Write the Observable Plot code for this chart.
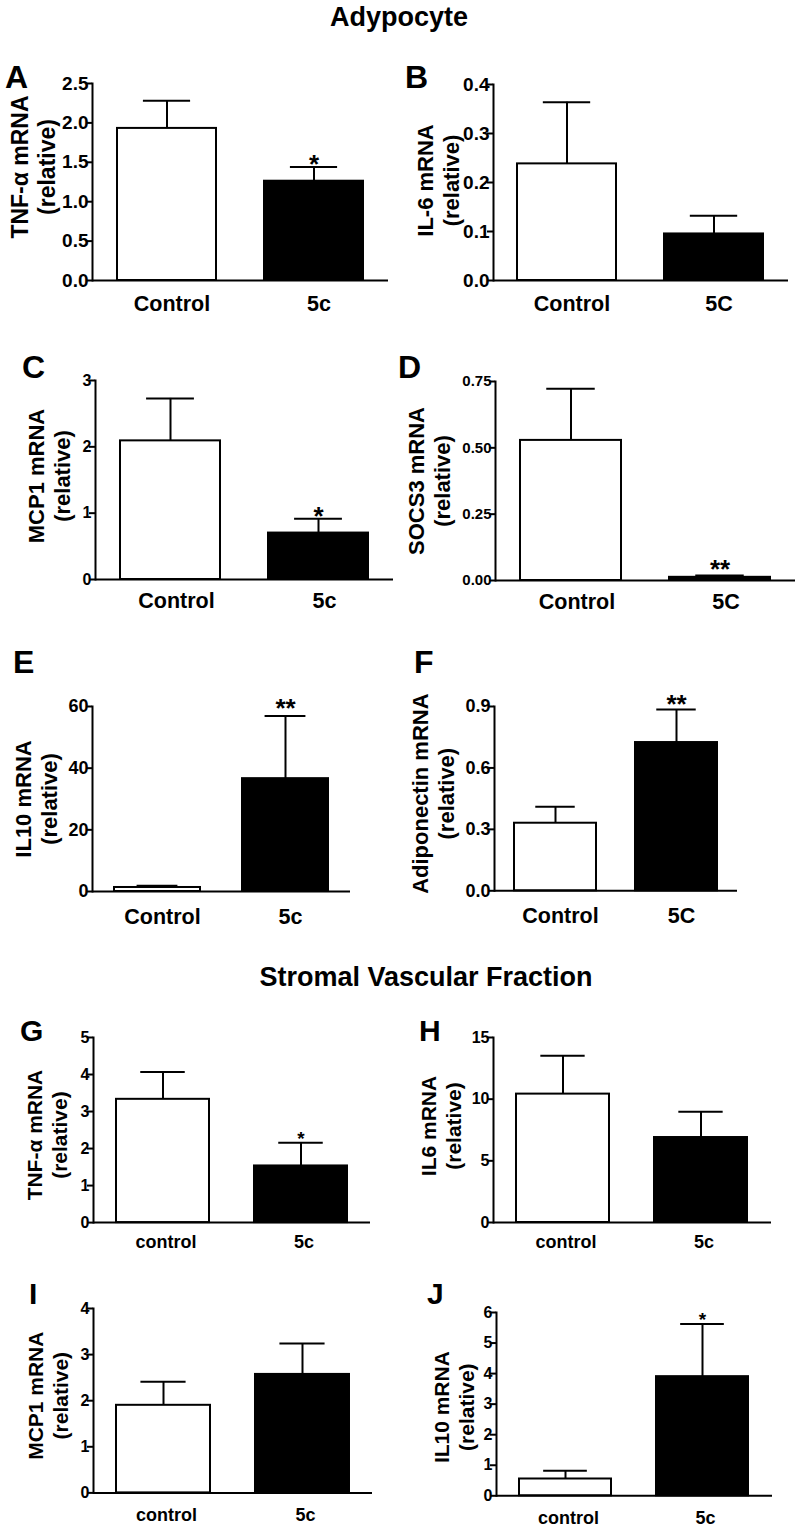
<!DOCTYPE html>
<html><head><meta charset="utf-8">
<script src="https://cdn.jsdelivr.net/npm/d3@7"></script>
<script src="https://cdn.jsdelivr.net/npm/@observablehq/plot@0.6"></script>
<style>
html,body{margin:0;padding:0;background:#fff;overflow:hidden}
#fig{position:relative;width:796px;height:1527px;background:#fff;font-family:"Liberation Sans",Arial,sans-serif;color:#000}
.abs{position:absolute;line-height:1;font-weight:bold;white-space:nowrap}
.panel{position:absolute}
</style></head><body><div id="fig"></div>
<script>
// ---- data ----
const groupsAdipoLower = ["Control", "5c"];
const groupsAdipoUpper = ["Control", "5C"];
const groupsSvf = ["control", "5c"];

const tnfAdipoMean = [1.93, 1.26],  tnfAdipoSem = [0.35, 0.18],  tnfAdipoSig = ["", "*"];
const il6AdipoMean = [0.238, 0.095], il6AdipoSem = [0.126, 0.037], il6AdipoSig = ["", ""];
const mcp1AdipoMean = [2.09, 0.70], mcp1AdipoSem = [0.64, 0.215], mcp1AdipoSig = ["", "*"];
const socs3Mean = [0.528, 0.012],   socs3Sem = [0.195, 0.007],    socs3Sig = ["", "**"];
const il10AdipoMean = [1.3, 36.6],  il10AdipoSem = [0.55, 20.3],  il10AdipoSig = ["", "**"];
const adipoqMean = [0.33, 0.724],   adipoqSem = [0.08, 0.161],    adipoqSig = ["", "**"];
const tnfSvfMean = [3.33, 1.53],    tnfSvfSem = [0.74, 0.63],     tnfSvfSig = ["", "*"];
const il6SvfMean = [10.41, 6.89],   il6SvfSem = [3.11, 2.09],     il6SvfSig = ["", ""];
const mcp1SvfMean = [1.90, 2.57],   mcp1SvfSem = [0.51, 0.67],    mcp1SvfSig = ["", ""];
const il10SvfMean = [0.55, 3.90],   il10SvfSem = [0.27, 1.72],    il10SvfSig = ["", "*"];

const ticksA = [0, 0.5, 1, 1.5, 2, 2.5];
const ticksB = [0, 0.1, 0.2, 0.3, 0.4];
const ticksC = [0, 1, 2, 3];
const ticksD = [0, 0.25, 0.5, 0.75];
const ticksE = [0, 20, 40, 60];
const ticksF = [0, 0.3, 0.6, 0.9];
const ticksG = [0, 1, 2, 3, 4, 5];
const ticksH = [0, 5, 10, 15];
const ticksI = [0, 1, 2, 3, 4];
const ticksJ = [0, 1, 2, 3, 4, 5, 6];

const titles = ["Adypocyte", "Stromal Vascular Fraction"];

// ---- layout ----
const FONT = '"Liberation Sans", Arial, Helvetica, sans-serif';
const fig = document.getElementById("fig");

const panels = [
  {letter:"A", lx:5, ly:65, ls:32, col:0, axisX:92, axisEnd:388, yTop:83, yZero:280, yMax:2.5, ticks:ticksA, fmt:".1f", tickFont:19, xFont:21.5, xPad:15, xDx:5,
   ylabel:"TNF-α mRNA\n(relative)", yFont:23, yDx:-60, yDy:-15, groups:groupsAdipoLower, mean:tnfAdipoMean, sem:tnfAdipoSem, sig:tnfAdipoSig, starFont:26, starDy:-2},
  {letter:"B", lx:405, ly:65, ls:32, col:400, axisX:493, axisEnd:788, yTop:84, yZero:280, yMax:0.4, ticks:ticksB, fmt:".1f", tickFont:19, xFont:21.5, xPad:15, xDx:5,
   ylabel:"IL-6 mRNA\n(relative)", yFont:22, yDx:-56, yDy:-2, groups:groupsAdipoUpper, mean:il6AdipoMean, sem:il6AdipoSem, sig:il6AdipoSig, starFont:26, starDy:-2},
  {letter:"C", lx:22, ly:355, ls:32, col:0, axisX:95, axisEnd:393, yTop:380, yZero:579, yMax:3, ticks:ticksC, fmt:"d", tickFont:16, xFont:21.5, xPad:13, xDx:6,
   ylabel:"MCP1 mRNA\n(relative)", yFont:22, yDx:-47, yDy:-4, groups:groupsAdipoLower, mean:mcp1AdipoMean, sem:mcp1AdipoSem, sig:mcp1AdipoSig, starFont:26, starDy:-2},
  {letter:"D", lx:398, ly:355, ls:32, col:400, axisX:495, axisEnd:795, yTop:381, yZero:580, yMax:0.75, ticks:ticksD, fmt:".2f", tickFont:15, xFont:21.5, xPad:13, xDx:6,
   ylabel:"SOCS3 mRNA\n(relative)", yFont:22, yDx:-67, yDy:0, groups:groupsAdipoUpper, mean:socs3Mean, sem:socs3Sem, sig:socs3Sig, starFont:26, starDy:-6},
  {letter:"E", lx:13, ly:650, ls:32, col:0, axisX:92, axisEnd:350, yTop:705.7, yZero:890.7, yMax:60, ticks:ticksE, fmt:"d", tickFont:18, xFont:21.5, xPad:17, xDx:5,
   ylabel:"IL10 mRNA\n(relative)", yFont:22, yDx:-57, yDy:0, groups:groupsAdipoLower, mean:il10AdipoMean, sem:il10AdipoSem, sig:il10AdipoSig, starFont:26, starDy:-7},
  {letter:"F", lx:414, ly:650, ls:32, col:400, axisX:494, axisEnd:737, yTop:705.7, yZero:890, yMax:0.9, ticks:ticksF, fmt:".1f", tickFont:18, xFont:21.5, xPad:17, xDx:5,
   ylabel:"Adiponectin mRNA\n(relative)", yFont:22, yDx:-62, yDy:-5, groups:groupsAdipoUpper, mean:adipoqMean, sem:adipoqSem, sig:adipoqSig, starFont:26, starDy:-5},
  {letter:"G", lx:20, ly:1020, ls:30, col:0, axisX:93, axisEnd:370, yTop:1036.6, yZero:1221.7, yMax:5, ticks:ticksG, fmt:"d", tickFont:16, xFont:18, xPad:13, xDx:3,
   ylabel:"TNF-α mRNA\n(relative)", yFont:21, yDx:-47, yDy:5, groups:groupsSvf, mean:tnfSvfMean, sem:tnfSvfSem, sig:tnfSvfSig, starFont:19, starDy:-4},
  {letter:"H", lx:419, ly:1020, ls:30, col:400, axisX:493, axisEnd:771, yTop:1036.7, yZero:1221.7, yMax:15, ticks:ticksH, fmt:"d", tickFont:16, xFont:18, xPad:13, xDx:3,
   ylabel:"IL6 mRNA\n(relative)", yFont:21, yDx:-53, yDy:-4, groups:groupsSvf, mean:il6SvfMean, sem:il6SvfSem, sig:il6SvfSig, starFont:19, starDy:-4},
  {letter:"I", lx:29, ly:1283, ls:30, col:0, axisX:93, axisEnd:372, yTop:1308.3, yZero:1492.7, yMax:4, ticks:ticksI, fmt:"d", tickFont:16, xFont:18, xPad:15, xDx:3,
   ylabel:"MCP1 mRNA\n(relative)", yFont:21, yDx:-46, yDy:-5, groups:groupsSvf, mean:mcp1SvfMean, sem:mcp1SvfSem, sig:mcp1SvfSig, starFont:19, starDy:-4},
  {letter:"J", lx:427, ly:1283, ls:30, col:400, axisX:496, axisEnd:772, yTop:1311.7, yZero:1495, yMax:6, ticks:ticksJ, fmt:"d", tickFont:16, xFont:18, xPad:15, xDx:3,
   ylabel:"IL10 mRNA\n(relative)", yFont:21, yDx:-43, yDy:3, groups:groupsSvf, mean:il10SvfMean, sem:il10SvfSem, sig:il10SvfSig, starFont:19, starDy:-4}
];

function addText(txt, left, capTop, size, center) {
  const d = document.createElement("div");
  d.className = "abs";
  d.textContent = txt;
  d.style.fontSize = size + "px";
  d.style.top = (capTop - 0.13 * size) + "px";
  d.style.left = left + "px";
  if (center) d.style.transform = "translateX(-50%)";
  fig.appendChild(d);
}

addText(titles[0], 399, 8, 27, true);
addText(titles[1], 426, 968, 27, true);

function panel(s) {
  const ml = s.axisX - s.col, mr = 2, mt = 35, mb = 45;
  const width = s.axisEnd - s.col + mr;
  const height = (s.yZero - s.yTop) + mt + mb;
  const pi = 0.325, po = 0.165;
  const W = width - ml - mr;
  const step = W / (2 - pi + 2 * po);
  const bw = step * (1 - pi);
  const rows = s.groups.map((g, i) => ({g, i, mean: s.mean[i], top: s.mean[i] + s.sem[i], sig: s.sig[i]}));
  const svg = Plot.plot({
    width, height, marginLeft: ml, marginRight: mr, marginTop: mt, marginBottom: mb,
    style: {fontFamily: FONT, background: "transparent", color: "black", overflow: "visible"},
    x: {domain: s.groups, paddingInner: pi, paddingOuter: po, label: null},
    y: {domain: [0, s.yMax], label: null},
    marks: [
      Plot.barY(rows.filter(d => d.i === 0), {x: "g", y: "mean", fill: "white", stroke: "black", strokeWidth: 2}),
      Plot.barY(rows.filter(d => d.i === 1), {x: "g", y: "mean", fill: "black", stroke: "black", strokeWidth: 2}),
      Plot.ruleX(rows, {x: "g", y1: "mean", y2: "top", stroke: "black", strokeWidth: 2}),
      Plot.tickY(rows, {x: "g", y: "top", stroke: "black", strokeWidth: 2, inset: bw * 0.26}),
      Plot.text(rows.filter(d => d.sig), {x: "g", y: "top", text: "sig", fontSize: s.starFont, fontWeight: "bold", dy: s.starDy, fill: "black"}),
      Plot.ruleY([0], {stroke: "black", strokeWidth: 2}),
      Plot.frame({anchor: "left", stroke: "black", strokeWidth: 2}),
      Plot.axisY({ticks: s.ticks, tickFormat: d3.format(s.fmt), tickSize: 6, tickPadding: -2, strokeWidth: 2, fontSize: s.tickFont, fontWeight: "bold", label: null}),
      Plot.axisX({tickSize: 0, tickPadding: s.xPad, fontSize: s.xFont, fontWeight: "bold", label: null, dx: s.xDx}),
      Plot.text([s.ylabel], {frameAnchor: "left", textAnchor: "middle", lineAnchor: "middle", rotate: -90, dx: s.yDx, dy: s.yDy, fontSize: s.yFont, fontWeight: "bold", lineHeight: 1.2, text: d => d, fill: "black"})
    ]
  });
  svg.classList.add("panel");
  svg.style.left = s.col + "px";
  svg.style.top = (s.yTop - mt) + "px";
  fig.appendChild(svg);
  addText(s.letter, s.lx, s.ly, s.ls, false);
}

panels.forEach(panel);
</script></body></html>
